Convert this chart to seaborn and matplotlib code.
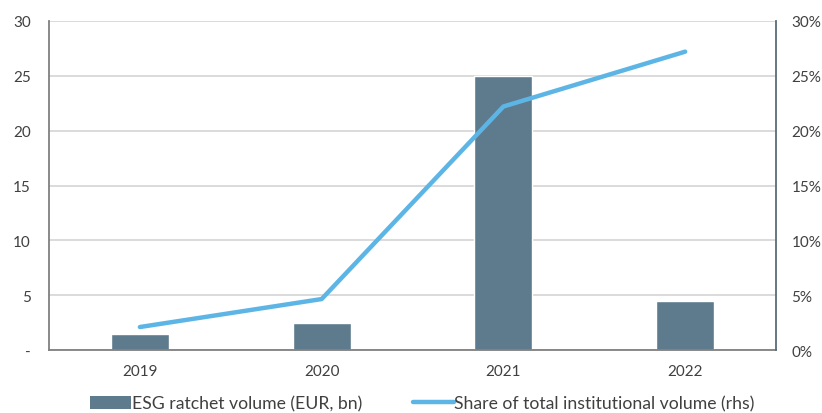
import matplotlib
matplotlib.use("Agg")
import matplotlib.pyplot as plt
import seaborn as sns
import numpy as np
from matplotlib.patches import Patch
from matplotlib.lines import Line2D
from matplotlib.ticker import FuncFormatter

years = ["2019", "2020", "2021", "2022"]
volume = [1.5, 2.5, 25.0, 4.5]
share = [2.1, 4.65, 22.2, 27.2]
left_ticks = [0, 5, 10, 15, 20, 25, 30]
right_ticks = [0, 5, 10, 15, 20, 25, 30]

sns.set_theme(style="white")
plt.rcParams['font.family'] = ['Lato', 'DejaVu Sans']

bar_color = "#5e7a8d"
line_color = "#5db5e6"
text_color = "#404040"

fig = plt.figure(figsize=(8.22, 4.14), dpi=100)
ax = fig.add_axes([0.0596, 0.152, 0.8845, 0.795])

sns.barplot(x=years, y=volume, ax=ax, color=bar_color, width=0.32, saturation=1, zorder=2)
ax.set_ylim(0, 30)
ax.set_yticks(left_ticks)
ax.yaxis.set_major_formatter(FuncFormatter(lambda v, p: "-" if v == 0 else f"{v:.0f}"))
ax.set_xlim(-0.5, 3.5)
ax.grid(axis="y", color="#d4d4d4", linewidth=1.2, zorder=0)
ax.set_axisbelow(True)
for s in ["top", "right"]:
    ax.spines[s].set_visible(False)
ax.spines["left"].set_color("#808080")
ax.spines["bottom"].set_color("#808080")
ax.spines["left"].set_linewidth(1.3)
ax.spines["bottom"].set_linewidth(1.3)
ax.tick_params(axis="both", length=0, labelsize=11, colors=text_color)
ax.tick_params(axis="y", pad=13)
ax.tick_params(axis="x", pad=10)
ax.set_xlabel("")
ax.set_ylabel("")

ax2 = ax.twinx()
sns.pointplot(x=years, y=share, ax=ax2, color=line_color, marker="", linewidth=3.2)
ax2.set_ylim(0, 30)
ax2.set_yticks(right_ticks)
ax2.yaxis.set_major_formatter(FuncFormatter(lambda v, p: f"{v:.0f}%"))
ax2.set_xlim(-0.5, 3.5)
for s in ["top", "left", "bottom"]:
    ax2.spines[s].set_visible(False)
ax2.spines["right"].set_color("#5a6b7a")
ax2.spines["right"].set_linewidth(1.3)
ax2.tick_params(axis="y", length=0, labelsize=11, colors=text_color, pad=11)
ax2.set_ylabel("")
ax2.grid(False)

handles = [Patch(facecolor=bar_color, edgecolor="none"),
           Line2D([0], [0], color=line_color, linewidth=3.2)]
labels = ["ESG ratchet volume (EUR, bn)", "Share of total institutional volume (rhs)"]
fig.legend(handles, labels, loc="lower center", bbox_to_anchor=(0.514, -0.035), ncol=2,
           frameon=False, fontsize=12.7, labelcolor=text_color, columnspacing=2.9,
           handlelength=2.3, handletextpad=0.05)

fig.savefig("out.png", dpi=100)
